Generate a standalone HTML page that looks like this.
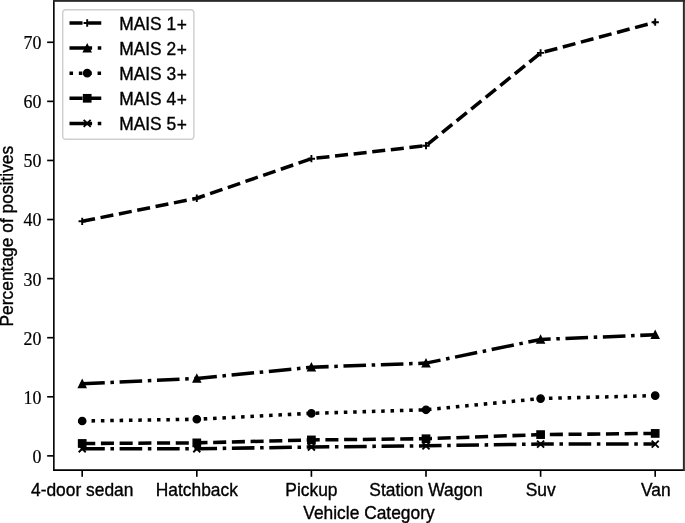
<!DOCTYPE html>
<html><head><meta charset="utf-8"><title>Percentage of positives by Vehicle Category</title>
<style>
html,body{margin:0;padding:0;background:#fff;}
body{width:685px;height:523px;overflow:hidden;}
svg{display:block;filter:grayscale(1);}
.sans{font-family:"Liberation Sans",Arial,Helvetica,sans-serif;font-size:17.4px;fill:#000;stroke:#000;stroke-width:0.35px;}
.serif{font-family:"Liberation Serif","Times New Roman",serif;font-size:17.9px;fill:#000;stroke:#000;stroke-width:0.2px;}
</style></head><body>
<svg width="685" height="523" viewBox="0 0 685 523">
<rect width="685" height="523" fill="#fff"/>
<polyline points="82.20,221.31 196.80,198.26 311.40,158.68 426.00,145.68 540.60,52.92 655.20,22.19" fill="none" stroke="#000" stroke-width="3.53" stroke-dasharray="13.06 5.65" stroke-linejoin="round"/>
<path d="M78.55 221.31H85.85M82.20 217.66V224.96" stroke="#000" stroke-width="1.9" fill="none"/>
<path d="M193.15 198.26H200.45M196.80 194.61V201.91" stroke="#000" stroke-width="1.9" fill="none"/>
<path d="M307.75 158.68H315.05M311.40 155.03V162.33" stroke="#000" stroke-width="1.9" fill="none"/>
<path d="M422.35 145.68H429.65M426.00 142.03V149.33" stroke="#000" stroke-width="1.9" fill="none"/>
<path d="M536.95 52.92H544.25M540.60 49.27V56.57" stroke="#000" stroke-width="1.9" fill="none"/>
<path d="M651.55 22.19H658.85M655.20 18.54V25.84" stroke="#000" stroke-width="1.9" fill="none"/>
<polyline points="82.20,383.79 196.80,378.47 311.40,367.24 426.00,363.11 540.60,339.47 655.20,334.75" fill="none" stroke="#000" stroke-width="3.53" stroke-dasharray="22.59 5.65 3.53 5.65" stroke-linejoin="round"/>
<path d="M82.20 380.14L85.85 387.44H78.55Z" stroke="#000" stroke-width="1.4" stroke-linejoin="miter" fill="#000"/>
<path d="M196.80 374.82L200.45 382.12H193.15Z" stroke="#000" stroke-width="1.4" stroke-linejoin="miter" fill="#000"/>
<path d="M311.40 363.59L315.05 370.89H307.75Z" stroke="#000" stroke-width="1.4" stroke-linejoin="miter" fill="#000"/>
<path d="M426.00 359.46L429.65 366.76H422.35Z" stroke="#000" stroke-width="1.4" stroke-linejoin="miter" fill="#000"/>
<path d="M540.60 335.82L544.25 343.12H536.95Z" stroke="#000" stroke-width="1.4" stroke-linejoin="miter" fill="#000"/>
<path d="M655.20 331.10L658.85 338.40H651.55Z" stroke="#000" stroke-width="1.4" stroke-linejoin="miter" fill="#000"/>
<polyline points="82.20,421.01 196.80,419.24 311.40,413.33 426.00,409.78 540.60,398.56 655.20,395.60" fill="none" stroke="#000" stroke-width="3.53" stroke-dasharray="3.53 5.82" stroke-linejoin="round"/>
<circle cx="82.20" cy="421.01" r="3.65" stroke="#000" stroke-width="1.4" fill="#000"/>
<circle cx="196.80" cy="419.24" r="3.65" stroke="#000" stroke-width="1.4" fill="#000"/>
<circle cx="311.40" cy="413.33" r="3.65" stroke="#000" stroke-width="1.4" fill="#000"/>
<circle cx="426.00" cy="409.78" r="3.65" stroke="#000" stroke-width="1.4" fill="#000"/>
<circle cx="540.60" cy="398.56" r="3.65" stroke="#000" stroke-width="1.4" fill="#000"/>
<circle cx="655.20" cy="395.60" r="3.65" stroke="#000" stroke-width="1.4" fill="#000"/>
<polyline points="82.20,443.46 196.80,442.87 311.40,439.92 426.00,438.74 540.60,434.60 655.20,433.42" fill="none" stroke="#000" stroke-width="3.53" stroke-dasharray="13.06 5.65" stroke-linejoin="round"/>
<rect x="78.55" y="439.81" width="7.30" height="7.30" stroke="#000" stroke-width="1.4" fill="#000"/>
<rect x="193.15" y="439.22" width="7.30" height="7.30" stroke="#000" stroke-width="1.4" fill="#000"/>
<rect x="307.75" y="436.27" width="7.30" height="7.30" stroke="#000" stroke-width="1.4" fill="#000"/>
<rect x="422.35" y="435.09" width="7.30" height="7.30" stroke="#000" stroke-width="1.4" fill="#000"/>
<rect x="536.95" y="430.95" width="7.30" height="7.30" stroke="#000" stroke-width="1.4" fill="#000"/>
<rect x="651.55" y="429.77" width="7.30" height="7.30" stroke="#000" stroke-width="1.4" fill="#000"/>
<polyline points="82.20,448.78 196.80,448.78 311.40,447.01 426.00,445.83 540.60,444.05 655.20,444.05" fill="none" stroke="#000" stroke-width="3.53" stroke-dasharray="22.59 5.65 3.53 5.65" stroke-linejoin="round"/>
<path d="M78.70 445.28L85.70 452.28M78.70 452.28L85.70 445.28" stroke="#000" stroke-width="1.9" fill="none"/>
<path d="M193.30 445.28L200.30 452.28M193.30 452.28L200.30 445.28" stroke="#000" stroke-width="1.9" fill="none"/>
<path d="M307.90 443.51L314.90 450.51M307.90 450.51L314.90 443.51" stroke="#000" stroke-width="1.9" fill="none"/>
<path d="M422.50 442.33L429.50 449.33M422.50 449.33L429.50 442.33" stroke="#000" stroke-width="1.9" fill="none"/>
<path d="M537.10 440.55L544.10 447.55M537.10 447.55L544.10 440.55" stroke="#000" stroke-width="1.9" fill="none"/>
<path d="M651.70 440.55L658.70 447.55M651.70 447.55L658.70 440.55" stroke="#000" stroke-width="1.9" fill="none"/>
<path d="M53.85 0V470.1H685" fill="none" stroke="#000" stroke-width="1.6" stroke-linejoin="miter"/>
<rect x="682.88" y="0" width="1.12" height="470.8" fill="#2a2a2a"/>
<rect x="684" y="0" width="1" height="470.8" fill="#444"/>
<rect x="53.15" y="0" width="631.85" height="1.85" fill="#2b2b2b"/>
<path d="M82.20 470.1v6.7" stroke="#000" stroke-width="1.65"/>
<path d="M196.80 470.1v6.7" stroke="#000" stroke-width="1.65"/>
<path d="M311.40 470.1v6.7" stroke="#000" stroke-width="1.65"/>
<path d="M426.00 470.1v6.7" stroke="#000" stroke-width="1.65"/>
<path d="M540.60 470.1v6.7" stroke="#000" stroke-width="1.65"/>
<path d="M655.20 470.1v6.7" stroke="#000" stroke-width="1.65"/>
<path d="M53.85 455.87h-6.7" stroke="#000" stroke-width="1.65"/>
<text class="serif" x="41.5" y="462.77" text-anchor="end">0</text>
<path d="M53.85 396.79h-6.7" stroke="#000" stroke-width="1.65"/>
<text class="serif" x="41.5" y="403.69" text-anchor="end">10</text>
<path d="M53.85 337.70h-6.7" stroke="#000" stroke-width="1.65"/>
<text class="serif" x="41.5" y="344.60" text-anchor="end">20</text>
<path d="M53.85 278.62h-6.7" stroke="#000" stroke-width="1.65"/>
<text class="serif" x="41.5" y="285.52" text-anchor="end">30</text>
<path d="M53.85 219.53h-6.7" stroke="#000" stroke-width="1.65"/>
<text class="serif" x="41.5" y="226.43" text-anchor="end">40</text>
<path d="M53.85 160.45h-6.7" stroke="#000" stroke-width="1.65"/>
<text class="serif" x="41.5" y="167.35" text-anchor="end">50</text>
<path d="M53.85 101.37h-6.7" stroke="#000" stroke-width="1.65"/>
<text class="serif" x="41.5" y="108.27" text-anchor="end">60</text>
<path d="M53.85 42.28h-6.7" stroke="#000" stroke-width="1.65"/>
<text class="serif" x="41.5" y="49.18" text-anchor="end">70</text>
<text class="sans" transform="translate(82.20,495.7) scale(1,1.035)" text-anchor="middle">4-door sedan</text>
<text class="sans" transform="translate(196.80,495.7) scale(1,1.035)" text-anchor="middle">Hatchback</text>
<text class="sans" transform="translate(311.40,495.7) scale(1,1.035)" text-anchor="middle">Pickup</text>
<text class="sans" transform="translate(426.00,495.7) scale(1,1.035)" text-anchor="middle">Station Wagon</text>
<text class="sans" transform="translate(540.60,495.7) scale(1,1.035)" text-anchor="middle">Suv</text>
<text class="sans" transform="translate(655.80,495.7) scale(1,1.035)" text-anchor="middle">Van</text>
<text class="sans" transform="translate(368.98,518.6) scale(1,1.035)" text-anchor="middle">Vehicle Category</text>
<text class="sans" transform="translate(13.45,236.15) rotate(-90) scale(1,1.035)" text-anchor="middle">Percentage of positives</text>
<rect x="62.7" y="9.7" width="131.2" height="129.60000000000002" rx="3.4" ry="3.4" fill="#fff" fill-opacity="0.8" stroke="#c9c9c9" stroke-opacity="0.9" stroke-width="1.41"/>
<path d="M69.5 23.00H104.1" fill="none" stroke="#000" stroke-width="3.53" stroke-dasharray="13.06 5.65"/>
<path d="M83.55 23.00H90.85M87.20 19.35V26.65" stroke="#000" stroke-width="1.9" fill="none"/>
<text class="sans" transform="translate(119.2,29.50) scale(1,1.035)">MAIS 1<tspan dx="0.5" dy="1.4">+</tspan></text>
<path d="M69.5 48.10H104.1" fill="none" stroke="#000" stroke-width="3.53" stroke-dasharray="22.59 5.65 3.53 5.65"/>
<path d="M87.20 44.45L90.85 51.75H83.55Z" stroke="#000" stroke-width="1.4" stroke-linejoin="miter" fill="#000"/>
<text class="sans" transform="translate(119.2,54.60) scale(1,1.035)">MAIS 2<tspan dx="0.5" dy="1.4">+</tspan></text>
<path d="M69.5 73.20H104.1" fill="none" stroke="#000" stroke-width="3.53" stroke-dasharray="3.53 5.82"/>
<circle cx="87.20" cy="73.20" r="3.65" stroke="#000" stroke-width="1.4" fill="#000"/>
<text class="sans" transform="translate(119.2,79.70) scale(1,1.035)">MAIS 3<tspan dx="0.5" dy="1.4">+</tspan></text>
<path d="M69.5 98.30H104.1" fill="none" stroke="#000" stroke-width="3.53" stroke-dasharray="13.06 5.65"/>
<rect x="83.55" y="94.65" width="7.30" height="7.30" stroke="#000" stroke-width="1.4" fill="#000"/>
<text class="sans" transform="translate(119.2,104.80) scale(1,1.035)">MAIS 4<tspan dx="0.5" dy="1.4">+</tspan></text>
<path d="M69.5 123.40H104.1" fill="none" stroke="#000" stroke-width="3.53" stroke-dasharray="22.59 5.65 3.53 5.65"/>
<path d="M83.70 119.90L90.70 126.90M83.70 126.90L90.70 119.90" stroke="#000" stroke-width="1.9" fill="none"/>
<text class="sans" transform="translate(119.2,129.90) scale(1,1.035)">MAIS 5<tspan dx="0.5" dy="1.4">+</tspan></text>
</svg></body></html>
